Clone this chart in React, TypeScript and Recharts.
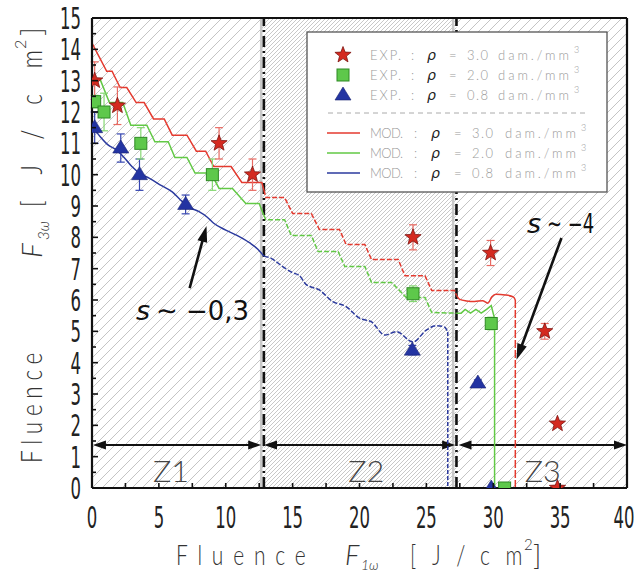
import React from "react";
import {
  ComposedChart,
  Line,
  Scatter,
  ErrorBar,
  XAxis,
  YAxis,
  ReferenceArea,
  ReferenceLine,
  ReferenceDot,
  Legend,
} from "recharts";

const W = 634;
const H = 573;
const FONT = "'DejaVu Sans', sans-serif";
const THIN = "Lato, 'DejaVu Sans', sans-serif";

const RED = "#e43a2f";
const GREEN = "#62c945";
const BLUE = "#2b3a9e";

// axis ticks (labels only on the majors)
const X_TICKS = [0, 2.5, 5, 7.5, 10, 12.5, 15, 17.5, 20, 22.5, 25, 27.5, 30, 32.5, 35, 37.5, 40];
const Y_TICKS = [
  0, 0.5, 1, 1.5, 2, 2.5, 3, 3.5, 4, 4.5, 5, 5.5, 6, 6.5, 7, 7.5, 8, 8.5, 9, 9.5, 10, 10.5, 11,
  11.5, 12, 12.5, 13, 13.5, 14, 14.5, 15,
];

// zones along F1w
const ZONE_EDGES = [0, 12.85, 27.25, 40];
const ZONE_NAMES = ["Z1", "Z2", "Z3"];
const ZONE_LABEL_X = [5.9, 20.5, 33.7];

// experiments, rho = 3.0 / 2.0 / 0.8 dam./mm3
const EXP_30_X = [0.2, 1.9, 9.5, 12.0, 24.0, 29.8, 33.85, 34.8, 34.8];
const EXP_30_Y = [13.0, 12.2, 11.0, 10.0, 8.0, 7.5, 5.0, 2.05, 0];
const EXP_30_ERR = [0.6, 0.6, 0.5, 0.5, 0.4, 0.4, 0.25, 0, 0];

const EXP_20_X = [0.2, 0.9, 3.65, 9.0, 24.0, 29.85, 30.85];
const EXP_20_Y = [12.33, 12.0, 11.0, 10.0, 6.2, 5.25, 0];
const EXP_20_ERR = [0.2, 0.6, 0.5, 0.5, 0.25, 0.2, 0];

const EXP_08_X = [0.2, 2.15, 3.55, 7.0, 23.95, 28.85, 29.85];
const EXP_08_Y = [11.5, 10.85, 10.0, 9.05, 4.4, 3.35, 0];
const EXP_08_ERR = [0.5, 0.45, 0.5, 0.3, 0.15, 0.1, 0];

// model, rho = 3.0
const MOD_30_Z1 = [
  [0, 14.2], [1.1, 13.3], [1.5, 13.3], [2.1, 12.78], [2.6, 12.78], [3.3, 12.3], [3.9, 12.3],
  [4.6, 11.78], [5.4, 11.78], [6.0, 11.26], [7.1, 11.26], [7.8, 10.75], [8.5, 10.75],
  [9.1, 10.26], [10.4, 10.26], [11.2, 9.75], [12.7, 9.75], [12.85, 9.51],
];
const MOD_30_Z2 = [
  [12.85, 9.51], [13.0, 9.27], [14.4, 9.27], [15.0, 8.76], [16.4, 8.76], [17.0, 8.25],
  [18.5, 8.25], [19.0, 7.77], [20.4, 7.77], [20.9, 7.29], [22.9, 7.29], [23.4, 6.77],
  [24.9, 6.77], [25.4, 6.3], [27.1, 6.3], [27.25, 6.15],
];
const MOD_30_Z3 = [
  [27.25, 6.15], [27.5, 6.02], [28.0, 5.97], [28.6, 5.95], [29.2, 5.98], [29.6, 5.9],
  [29.9, 6.1], [30.2, 6.18], [30.9, 6.16], [31.5, 6.1], [31.65, 6.0],
];
const MOD_30_DROP = [[31.65, 6.0], [31.65, 0]];

// model, rho = 2.0
const MOD_20_Z1 = [
  [0, 13.05], [0.6, 13.05], [1.3, 12.3], [2.3, 12.3], [2.9, 11.58], [4.1, 11.58], [4.7, 11.05],
  [5.7, 11.05], [6.2, 10.55], [7.1, 10.55], [7.7, 10.05], [8.9, 10.05], [9.5, 9.56],
  [10.5, 9.56], [11.5, 9.08], [12.5, 9.08], [12.85, 8.7],
];
const MOD_20_Z2 = [
  [12.85, 8.7], [13.0, 8.56], [14.4, 8.56], [14.9, 8.06], [16.4, 8.06], [16.9, 7.55],
  [18.4, 7.55], [18.9, 7.07], [20.4, 7.07], [20.9, 6.56], [22.4, 6.56], [23.5, 6.08],
  [24.9, 6.08], [25.4, 5.6], [27.25, 5.58],
];
const MOD_20_Z3 = [
  [27.25, 5.58], [27.6, 5.58], [27.9, 5.7], [28.3, 5.58], [28.7, 5.7], [29.1, 5.58],
  [29.5, 5.7], [29.85, 5.82], [30.1, 5.4],
];
const MOD_20_DROP = [[30.1, 5.4], [30.1, 0]];

// model, rho = 0.8
const MOD_08_Z1 = [
  [0, 11.55], [0.6, 11.22], [1.2, 10.95], [1.8, 10.8], [2.4, 10.55], [3.0, 10.25],
  [3.55, 10.05], [4.3, 9.88], [5.2, 9.65], [6.0, 9.45], [6.6, 9.2], [7.3, 8.95], [8.0, 8.82],
  [8.6, 8.65], [9.1, 8.45], [10.0, 8.23], [10.8, 8.07], [11.8, 7.82], [12.4, 7.62],
  [12.85, 7.4],
];
const MOD_08_Z2 = [
  [12.85, 7.4], [13.4, 7.33], [14.27, 7.06], [15.0, 6.87], [15.5, 6.78], [16.0, 6.5],
  [17.0, 6.32], [18.0, 5.95], [19.0, 5.79], [20.0, 5.42], [20.9, 5.3], [21.9, 4.88],
  [22.75, 4.99], [24.0, 4.66], [25.0, 5.04], [25.75, 5.18], [26.35, 5.14], [26.6, 4.98],
];
const MOD_08_DROP = [[26.6, 4.98], [26.6, 0]];

const DENSITY_LABELS = ["3.0", "2.0", "0.8"];

const pts = (a: number[][]) => a.map(([x, y]) => ({ x, y }));
const expRows = (xs: number[], ys: number[], es: number[]) =>
  xs.map((x, i) => ({ x, y: ys[i], err: es[i] }));

function starPoints(cx: number, cy: number, R: number, r: number) {
  const out: string[] = [];
  for (let i = 0; i < 10; i++) {
    const a = -Math.PI / 2 + (i * Math.PI) / 5;
    const rad = i % 2 ? r : R;
    out.push(`${cx + rad * Math.cos(a)},${cy + rad * Math.sin(a)}`);
  }
  return out.join(" ");
}

const StarMark = ({ cx, cy }: any) => (
  <polygon points={starPoints(cx, cy, 8.5, 3.6)} fill="#d42a20" stroke="#7e1410" strokeWidth={0.8} />
);
const SquareMark = ({ cx, cy }: any) => (
  <rect x={cx - 6} y={cy - 6} width={12} height={12} fill="#5ec84b" stroke="#2f8a25" strokeWidth={1} />
);
const TriangleMark = ({ cx, cy }: any) => (
  <polygon points={`${cx},${cy - 8} ${cx + 8},${cy + 5} ${cx - 8},${cy + 5}`} fill="#2334a2" stroke="#1a2470" strokeWidth={0.6} />
);

// tick renderers: inward marks, labels outside
const BottomTick = (p: any) => {
  const v = p.payload.value;
  const major = v % 5 === 0;
  const lx = v === 40 ? p.x - 3 : p.x;
  return (
    <g>
      {v > 0 && v < 40 && (
        <line x1={p.x} y1={p.y} x2={p.x} y2={p.y - 5} stroke="#111" strokeWidth={1.6} />
      )}
      {major && (
        <text
          transform={`translate(${lx},${p.y + 40}) scale(0.55,1)`}
          textAnchor="middle"
          fontSize={30}
          fontFamily={FONT}
          fill="#222"
        >
          {v}
        </text>
      )}
    </g>
  );
};

const TopTick = (p: any) => {
  const v = p.payload.value;
  if (v <= 0 || v >= 40) return <g />;
  const len = v % 5 === 0 ? 8 : 4;
  return <line x1={p.x} y1={p.y} x2={p.x} y2={p.y + len} stroke="#111" strokeWidth={1.6} />;
};

const LeftTick = (p: any) => {
  const v = p.payload.value;
  const major = v % 1 === 0;
  return (
    <g>
      {v > 0 && v < 15 && (
        <line x1={p.x} y1={p.y} x2={p.x + (major ? 6 : 4)} y2={p.y} stroke="#111" strokeWidth={1.6} />
      )}
      {major && (
        <text
          transform={`translate(${p.x - 11},${p.y + 11}) scale(0.55,1)`}
          textAnchor="end"
          fontSize={30}
          fontFamily={FONT}
          fill="#222"
        >
          {v}
        </text>
      )}
    </g>
  );
};

const RightTick = (p: any) => {
  const v = p.payload.value;
  if (v <= 0 || v >= 15) return <g />;
  const len = v % 1 === 0 ? 7 : 4;
  return <line x1={p.x} y1={p.y} x2={p.x - len} y2={p.y} stroke="#111" strokeWidth={1.6} />;
};

const arrowHead = (tx: number, ty: number, ux: number, uy: number, len = 13, half = 4.5) => {
  const bx = tx - ux * len;
  const by = ty - uy * len;
  return `${tx},${ty} ${bx - uy * half},${by + ux * half} ${bx + uy * half},${by - ux * half}`;
};

const DoubleArrow = (p: any) => {
  const { x1, y1, x2, y2 } = p;
  return (
    <g>
      <line x1={x1 + 8} y1={y1} x2={x2 - 8} y2={y2} stroke="#111" strokeWidth={2} />
      <polygon points={arrowHead(x1, y1, -1, 0)} fill="#111" />
      <polygon points={arrowHead(x2, y2, 1, 0)} fill="#111" />
    </g>
  );
};

const PointerArrow = (p: any) => {
  const { x1, y1, x2, y2 } = p;
  const d = Math.hypot(x2 - x1, y2 - y1);
  const ux = (x2 - x1) / d;
  const uy = (y2 - y1) / d;
  return (
    <g>
      <line x1={x1} y1={y1} x2={x2 - ux * 10} y2={y2 - uy * 10} stroke="#111" strokeWidth={2.6} />
      <polygon points={arrowHead(x2, y2, ux, uy, 16, 5)} fill="#111" />
    </g>
  );
};

// "s ~ value": italic s, then the rest right after it
const slopeLabel = (value: string, width: number) => (p: any) => {
  const x0 = p.cx - width / 2;
  return (
    <g fontFamily={FONT} fontSize={27} fill="#111">
      <text x={x0} y={p.cy + 10} fontStyle="italic">s</text>
      <text x={x0 + 20} y={p.cy + 10} textLength={width - 20} lengthAdjust="spacingAndGlyphs">
        {`∼ ${value}`}
      </text>
    </g>
  );
};

const zoneLabel = (name: string) => (p: any) => (
  <text
    x={p.cx - 18}
    y={p.cy}
    fontSize={30}
    fontFamily={THIN}
    fontWeight={300}
    fill="#444"
    textLength={36}
    lengthAdjust="spacingAndGlyphs"
  >
    {name}
  </text>
);

const LegendPanel = () => {
  const expMarks = [StarMark, SquareMark, TriangleMark];
  const modColors = [RED, GREEN, BLUE];
  const txt = { fontFamily: THIN, fontSize: 13, fill: "#9a9a9a", fontWeight: 300, lengthAdjust: "spacing" } as const;
  const rho = { fontFamily: FONT, fontSize: 14, fill: "#222", fontStyle: "italic", fontWeight: 400 } as const;
  return (
    <svg width={302} height={162} style={{ display: "block" }}>
      <rect x={1} y={1} width={300} height={160} fill="#fff" stroke="#555" strokeWidth={1.3} />
      {DENSITY_LABELS.map((d, i) => {
        const cy = 24 + i * 20;
        const b = cy + 5;
        const Mark = expMarks[i];
        return (
          <g key={`e${d}`}>
            <Mark cx={37} cy={cy} />
            <text x={64} y={b} {...txt} textLength={31}>EXP.</text>
            <text x={105} y={b} {...txt}>:</text>
            <text x={121} y={b} {...rho}>ρ</text>
            <text x={143} y={b} {...txt}>=</text>
            <text x={161} y={b} {...txt} textLength={21}>{d}</text>
            <text x={192} y={b} {...txt} textLength={71}>dam./mm</text>
            <text x={268} y={b - 7} {...txt} fontSize={9}>3</text>
          </g>
        );
      })}
      <line x1={22} y1={82} x2={279} y2={82} stroke="#aaa" strokeWidth={1} strokeDasharray="5 4" />
      {DENSITY_LABELS.map((d, i) => {
        const cy = 102 + i * 20;
        const b = cy + 5;
        return (
          <g key={`m${d}`}>
            <line x1={21} y1={cy} x2={54} y2={cy} stroke={modColors[i]} strokeWidth={1.3} />
            <text x={64} y={b} {...txt} textLength={33}>MOD.</text>
            <text x={108} y={b} {...txt}>:</text>
            <text x={125} y={b} {...rho}>ρ</text>
            <text x={148} y={b} {...txt}>=</text>
            <text x={166} y={b} {...txt} textLength={21}>{d}</text>
            <text x={199} y={b} {...txt} textLength={71}>dam./mm</text>
            <text x={275} y={b - 7} {...txt} fontSize={9}>3</text>
          </g>
        );
      })}
    </svg>
  );
};

const titleText = { fontFamily: THIN, fontWeight: 300, fill: "#333" } as const;
const italicPart = { fontFamily: THIN, fontWeight: 300, fontStyle: "italic" } as const;

export default function App() {
  const exp30 = expRows(EXP_30_X, EXP_30_Y, EXP_30_ERR);
  const exp20 = expRows(EXP_20_X, EXP_20_Y, EXP_20_ERR);
  const exp08 = expRows(EXP_08_X, EXP_08_Y, EXP_08_ERR);

  const lineProps = { dataKey: "y", dot: false, isAnimationActive: false, strokeWidth: 1.5, legendType: "none" as const };
  const zoneFills = ["url(#hatchWide)", "url(#hatchDense)", "url(#hatchWide)"];

  return (
    <div style={{ position: "absolute", left: 0, top: 0, width: W, height: H, background: "#fff" }}>
      <ComposedChart width={W} height={H} margin={{ top: 0, right: 0, bottom: 0, left: 0 }}>
        <defs>
          <pattern id="hatchWide" patternUnits="userSpaceOnUse" width={10} height={10}>
            <path d="M-2,2 L2,-2 M0,10 L10,0 M8,12 L12,8" stroke="#c4c4c4" strokeWidth={1} />
          </pattern>
          <pattern id="hatchDense" patternUnits="userSpaceOnUse" width={4} height={4}>
            <path d="M-1,1 L1,-1 M0,4 L4,0 M3,5 L5,3" stroke="#c2c2c2" strokeWidth={0.9} />
          </pattern>
        </defs>

        <XAxis
          type="number"
          dataKey="x"
          domain={[0, 40]}
          allowDataOverflow
          ticks={X_TICKS}
          interval={0}
          height={85}
          tickSize={0}
          tickMargin={0}
          tickLine={false}
          tick={BottomTick}
          axisLine={{ stroke: "#111", strokeWidth: 2.2 }}
        />
        <XAxis
          xAxisId="top"
          orientation="top"
          type="number"
          domain={[0, 40]}
          ticks={X_TICKS}
          interval={0}
          height={18}
          tickSize={0}
          tickMargin={0}
          tickLine={false}
          tick={TopTick}
          axisLine={{ stroke: "#111", strokeWidth: 2.2 }}
        />
        <YAxis
          type="number"
          domain={[0, 15]}
          allowDataOverflow
          ticks={Y_TICKS}
          interval={0}
          width={92}
          tickSize={0}
          tickMargin={0}
          tickLine={false}
          tick={LeftTick}
          axisLine={{ stroke: "#111", strokeWidth: 2.2 }}
        />
        <YAxis
          yAxisId="right"
          orientation="right"
          type="number"
          domain={[0, 15]}
          ticks={Y_TICKS}
          interval={0}
          width={7}
          tickSize={0}
          tickMargin={0}
          tickLine={false}
          tick={RightTick}
          axisLine={{ stroke: "#111", strokeWidth: 2.2 }}
        />

        {ZONE_NAMES.map((z, i) => (
          <ReferenceArea
            key={z}
            x1={ZONE_EDGES[i]}
            x2={ZONE_EDGES[i + 1]}
            y1={0}
            y2={15}
            fill={zoneFills[i]}
            fillOpacity={1}
            stroke="none"
          />
        ))}
        <ReferenceLine x={12.65} stroke="#c9c9c9" strokeWidth={2.5} />
        <ReferenceLine x={27.0} stroke="#c9c9c9" strokeWidth={2.5} />
        <ReferenceLine x={ZONE_EDGES[1]} stroke="#111" strokeWidth={2.6} strokeDasharray="11 4 2 4" />
        <ReferenceLine x={ZONE_EDGES[2]} stroke="#111" strokeWidth={2.6} strokeDasharray="11 4 2 4" />

        <ReferenceLine segment={[{ x: 0.07, y: 1.37 }, { x: 12.65, y: 1.37 }]} shape={DoubleArrow} ifOverflow="visible" />
        <ReferenceLine segment={[{ x: 12.86, y: 1.37 }, { x: 27.15, y: 1.37 }]} shape={DoubleArrow} ifOverflow="visible" />
        <ReferenceLine segment={[{ x: 27.4, y: 1.37 }, { x: 40, y: 1.37 }]} shape={DoubleArrow} ifOverflow="visible" />

        {ZONE_NAMES.map((z, i) => (
          <ReferenceDot key={`lbl${z}`} x={ZONE_LABEL_X[i]} y={0.2} shape={zoneLabel(z)} ifOverflow="visible" />
        ))}

        <Line data={pts(MOD_30_Z1)} type="linear" stroke={RED} {...lineProps} />
        <Line data={pts(MOD_30_Z2)} type="linear" stroke={RED} strokeDasharray="5 2" {...lineProps} />
        <Line data={pts(MOD_30_Z3)} type="monotone" stroke={RED} {...lineProps} />
        <Line data={pts(MOD_30_DROP)} type="linear" stroke={RED} strokeDasharray="8 2" {...lineProps} />

        <Line data={pts(MOD_20_Z1)} type="linear" stroke={GREEN} {...lineProps} />
        <Line data={pts(MOD_20_Z2)} type="linear" stroke={GREEN} strokeDasharray="5 2" {...lineProps} />
        <Line data={pts(MOD_20_Z3)} type="linear" stroke={GREEN} {...lineProps} />
        <Line data={pts(MOD_20_DROP)} type="linear" stroke={GREEN} {...lineProps} />

        <Line data={pts(MOD_08_Z1)} type="monotone" stroke={BLUE} {...lineProps} />
        <Line data={pts(MOD_08_Z2)} type="monotone" stroke={BLUE} strokeDasharray="5 2" {...lineProps} />
        <Line data={pts(MOD_08_DROP)} type="linear" stroke={BLUE} strokeDasharray="4 2" {...lineProps} />

        <Scatter data={exp08} dataKey="y" shape={TriangleMark} isAnimationActive={false} legendType="none">
          <ErrorBar dataKey="err" direction="y" width={4} stroke="#3545b0" strokeWidth={1.2} />
        </Scatter>
        <Scatter data={exp20} dataKey="y" shape={SquareMark} isAnimationActive={false} legendType="none">
          <ErrorBar dataKey="err" direction="y" width={4} stroke="#86d873" strokeWidth={1.2} />
        </Scatter>
        <Scatter data={exp30} dataKey="y" shape={StarMark} isAnimationActive={false} legendType="none">
          <ErrorBar dataKey="err" direction="y" width={4} stroke="#e86a62" strokeWidth={1.2} />
        </Scatter>

        <ReferenceLine segment={[{ x: 7.3, y: 6.38 }, { x: 8.56, y: 8.36 }]} shape={PointerArrow} ifOverflow="visible" />
        <ReferenceLine segment={[{ x: 35.1, y: 7.98 }, { x: 31.74, y: 4.09 }]} shape={PointerArrow} ifOverflow="visible" />
        <ReferenceDot x={7.52} y={5.68} shape={slopeLabel("−0,3", 113)} ifOverflow="visible" />
        <ReferenceDot x={35.03} y={8.46} shape={slopeLabel("−4", 67)} ifOverflow="visible" />

        <Legend
          layout="horizontal"
          verticalAlign="middle"
          align="center"
          content={LegendPanel}
          wrapperStyle={{ left: 306, top: 31, width: 302, height: 162 }}
        />

        {/* axis titles */}
        <g {...titleText}>
          <text transform="translate(176,565) scale(0.75,1)" fontSize={28} textLength={173} lengthAdjust="spacing">
            Fluence
          </text>
          <text x={345} y={565} fontSize={27} {...italicPart}>F</text>
          <text x={361} y={570} fontSize={14} {...italicPart}>1ω</text>
          <text transform="translate(410,565) scale(0.75,1)" fontSize={28} textLength={150} lengthAdjust="spacing">
            [J/cm
          </text>
          <text x={524} y={550} fontSize={15}>2</text>
          <text x={533} y={565} fontSize={28}>]</text>

          <text transform="translate(42,463) rotate(-90) scale(0.75,1)" fontSize={30} textLength={147} lengthAdjust="spacing">
            Fluence
          </text>
          <text transform="translate(42,258) rotate(-90)" fontSize={28} {...italicPart}>F</text>
          <text transform="translate(49,240) rotate(-90)" fontSize={15} {...italicPart}>3ω</text>
          <text transform="translate(42,207) rotate(-90) scale(0.75,1)" fontSize={30} textLength={209} lengthAdjust="spacing">
            [J/cm
          </text>
          <text transform="translate(26,49) rotate(-90)" fontSize={16}>2</text>
          <text transform="translate(42,36) rotate(-90)" fontSize={30}>]</text>
        </g>
      </ComposedChart>
    </div>
  );
}
